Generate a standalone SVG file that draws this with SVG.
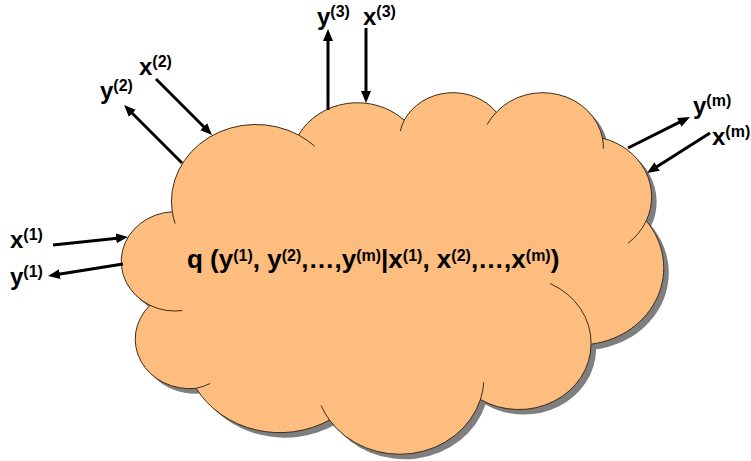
<svg xmlns="http://www.w3.org/2000/svg" width="751" height="461" viewBox="0 0 751 461">
<style>
.lbl{font-family:"Liberation Sans",Arial,sans-serif;font-weight:bold;font-size:24px;fill:#000}
.sup{font-size:16px}
.main{font-family:"Liberation Sans",Arial,sans-serif;font-weight:bold;font-size:26px;fill:#000}
.ms{font-size:16px}
.body{fill:#FDBD7E;stroke:#3c2a18;stroke-width:1}
.shadow{fill:#7f7f7f}
.inner{fill:none;stroke:#3c2a18;stroke-width:1}
.arrow{stroke:#000;stroke-width:3;fill:none;marker-end:url(#ah)}
</style>
<defs>
<path id="cloudPath" d="M 172.25 211.75 A 84.41 76.90 0 0 1 298.56 135.03 A 66.66 60.81 0 0 1 404.20 120.20 A 54.56 49.75 0 0 1 496.41 112.24 A 60.71 55.19 0 0 1 602.48 138.14 A 66.66 60.86 0 0 1 646.23 220.85 A 84.69 77.15 0 0 1 591.06 344.22 A 72.31 65.83 0 0 1 480.45 399.53 A 84.40 77.11 0 0 1 329.53 420.07 A 96.50 88.22 0 0 1 196.10 388.32 A 54.50 49.52 0 0 1 149.96 305.29 A 54.31 49.75 0 0 1 172.25 211.75 Z"/>
<marker id="ah" viewBox="0 0 12 10" refX="6" refY="5" markerWidth="12" markerHeight="10" orient="auto" markerUnits="userSpaceOnUse"><path d="M0,0 L12,5 L0,10 Z" fill="#000"/></marker>
</defs>
<g id="cloud">
<use href="#cloudPath" class="shadow" transform="translate(5,5)"/>
<use href="#cloudPath" class="body"/>
<path class="inner" d="M 175.1 223.6 A 84.41 76.90 0 0 1 172.25 211.75 M 182.2 310.6 A 54.31 49.75 0 0 1 149.96 305.29 M 210.1 383.5 A 54.50 49.52 0 0 1 196.10 388.32 M 329.53 420.07 A 84.40 77.11 0 0 1 321.1 405.5 M 483.8 382.3 A 84.40 77.11 0 0 1 480.45 399.53 M 550.1 283.6 A 72.31 65.83 0 0 1 591.06 344.22 M 646.23 220.85 A 66.66 60.86 0 0 1 628.1 243.2 M 602.48 138.14 A 60.71 55.19 0 0 1 603.4 148.7 M 487.0 124.6 A 60.71 55.19 0 0 1 496.41 112.24 M 400.3 131.0 A 54.56 49.75 0 0 1 404.20 120.20 M 298.56 135.03 A 84.41 76.90 0 0 1 314.8 146.3"/>
<text class="main" x="187" y="268">q (y<tspan class="ms" dy="-7">(1)</tspan><tspan dy="7">, y</tspan><tspan class="ms" dy="-7">(2)</tspan><tspan dy="7">,…,y</tspan><tspan class="ms" dy="-7">(m)</tspan><tspan dy="7">|x</tspan><tspan class="ms" dy="-7">(1)</tspan><tspan dy="7">, x</tspan><tspan class="ms" dy="-7">(2)</tspan><tspan dy="7">,…,x</tspan><tspan class="ms" dy="-7">(m)</tspan><tspan dy="7">)</tspan></text>
</g>
<g id="connectors">
<line class="arrow" x1="53" y1="245" x2="122.03" y2="237.64"/>
<line class="arrow" x1="123" y1="264" x2="53.93" y2="275.05"/>
<line class="arrow" x1="182" y1="163" x2="128.28" y2="109.21"/>
<line class="arrow" x1="156" y1="79" x2="207.76" y2="130.76"/>
<line class="arrow" x1="328" y1="110" x2="328" y2="35"/>
<line class="arrow" x1="366" y1="28" x2="366" y2="97"/>
<line class="arrow" x1="628" y1="148" x2="684.63" y2="119.68"/>
<line class="arrow" x1="710" y1="133" x2="652.07" y2="169.78"/>
</g>
<g id="label-x1"><text class="lbl" x="10" y="248">x<tspan class="sup" dy="-8">(1)</tspan></text></g>
<g id="label-y1"><text class="lbl" x="10" y="285">y<tspan class="sup" dy="-8">(1)</tspan></text></g>
<g id="label-y2"><text class="lbl" x="100" y="99">y<tspan class="sup" dy="-8">(2)</tspan></text></g>
<g id="label-x2"><text class="lbl" x="139" y="75">x<tspan class="sup" dy="-8">(2)</tspan></text></g>
<g id="label-y3"><text class="lbl" x="317" y="25">y<tspan class="sup" dy="-8">(3)</tspan></text></g>
<g id="label-x3"><text class="lbl" x="363" y="25">x<tspan class="sup" dy="-8">(3)</tspan></text></g>
<g id="label-ym"><text class="lbl" x="693" y="114">y<tspan class="sup" dy="-8">(m)</tspan></text></g>
<g id="label-xm"><text class="lbl" x="712" y="145">x<tspan class="sup" dy="-8">(m)</tspan></text></g>
</svg>
